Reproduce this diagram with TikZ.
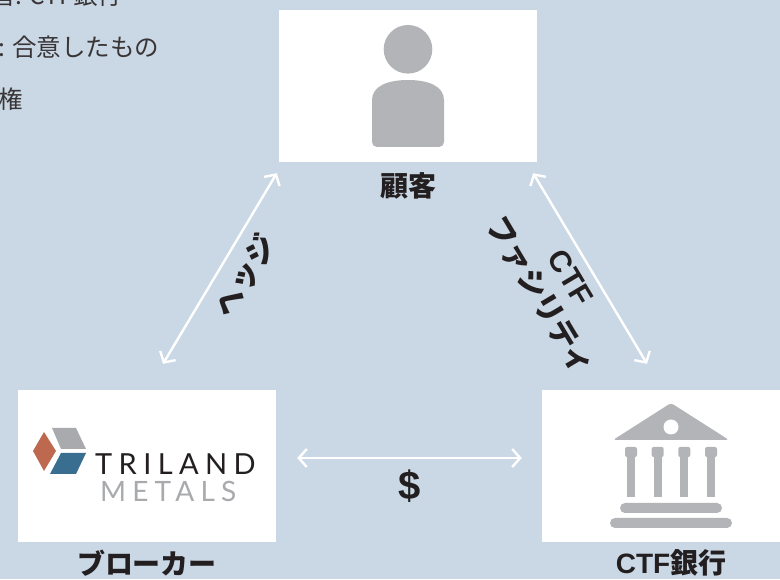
\documentclass[tikz,border=0pt]{standalone}
\usepackage{fontspec}
\setmainfont{Liberation Sans}
\newfontfamily\jp{Noto Sans CJK JP}
\newfontfamily\logofont{Lato}
\usetikzlibrary{positioning, arrows.meta}

\definecolor{bgblue}{RGB}{202,215,228}
\definecolor{icongray}{RGB}{179,180,184}
\definecolor{textdark}{RGB}{35,31,32}
\definecolor{trired}{RGB}{190,104,80}
\definecolor{triblue}{RGB}{58,110,145}
\definecolor{trigray}{RGB}{168,170,173}

\tikzset{
  card/.style={fill=white, minimum width=258pt, minimum height=152pt, inner sep=0pt},
  who/.style={font=\jp\bfseries\fontsize{28}{35}\selectfont, text=textdark},
  tag/.style={font=\jp\bfseries\fontsize{30}{36}\selectfont, text=textdark},
  link/.style={white, line width=2.4pt, {Straight Barb[length=8pt,width=18pt]}-{Straight Barb[length=8pt,width=18pt]}},
  icon/.style={fill=icongray},
  note/.style={font=\jp\fontsize{24.5}{28}\selectfont, text=textdark!90, anchor=base west, inner sep=0pt}
}

\begin{document}
\begin{tikzpicture}[x=1pt, y=1pt]
  \useasboundingbox (0,0) rectangle (780,579);
  \clip (0,0) rectangle (780,579);
  \fill[bgblue] (0,0) rectangle (780,579);

  % notes cut off at the top left
  \node[note] (note1) at (-9,574) {者: CTF銀行};
  \node[note] (note2) at (-2,522) {: 合意したもの};
  \node[note] (note3) at (-2,470) {権};

  % the three parties
  \node[card] (cust) at (408,493) {};
  \node[card] (broker) at (147,113) {};
  \node[card] (bank) at (671,113) {};

  \node[who, below=7pt of cust] (custlbl) {顧客};
  \node[who, below=4pt of broker] (brokerlbl) {ブローカー};
  \node[who, below=4pt of bank] (banklbl) {{\rmfamily CTF}銀行};

  % customer icon
  \begin{scope}[shift={(cust.center)}]
    \fill[icon] (0,36.7) circle[radius=24.3];
    \fill[icon] (0,6) .. controls (20,6) and (36,0) .. (36,-14) -- (36,-56)
      arc[start angle=0, end angle=-90, radius=5] -- (-31,-61)
      arc[start angle=270, end angle=180, radius=5] -- (-36,-14)
      .. controls (-36,0) and (-20,6) .. (0,6) -- cycle;
  \end{scope}

  % broker logo
  \fill[trired] (33,128) -- (44,147) -- (56,128) -- (44,108) -- cycle;
  \fill[trigray] (52,151) -- (76,151) -- (86,130) -- (61,130) -- cycle;
  \fill[triblue] (61,126) -- (86,126) -- (76,105) -- (50,105) -- cycle;
  \node[font=\logofont\fontsize{29}{29}\selectfont\addfontfeature{LetterSpace=22}, text=textdark, anchor=base west, inner sep=0pt] (triland) at (95,104) {TRILAND};
  \node[font=\logofont\fontsize{28}{28}\selectfont\addfontfeature{LetterSpace=22}, text=trigray, anchor=base west, inner sep=0pt] (metals) at (100,77) {METALS};

  % bank icon
  \begin{scope}[shift={(bank.center)}]
    \fill[icon, rounded corners=3pt] (-58,26) -- (0,63) -- (58,26) -- cycle;
    \fill[white] (0,39) circle[radius=7.5];
    \foreach \x in {-40,-13.3,13.3,40} {
      \fill[icon, rounded corners=2pt] (\x-6,9) rectangle (\x+6,19);
      \fill[icon] (\x-4,-31) rectangle (\x+4,11);
    }
    \fill[icon, rounded corners=5pt] (-51,-47) rectangle (51,-37);
    \fill[icon, rounded corners=5pt] (-61,-62) rectangle (61,-52);
  \end{scope}

  % connectors
  \draw[link] ([shift={(16,26)}]broker.north) -- node[tag, pos=0.53, sloped, below=7pt] {ヘッジ} ([shift={(-2,-11)}]cust.south west);
  \draw[link] ([shift={(-4,-11)}]cust.south east) -- node[tag, align=center, pos=0.49, sloped, below=6pt] {{\rmfamily CTF}\\ファシリティ} ([shift={(-24,26)}]bank.north);
  \draw[link] ([shift={(21,8)}]broker.east) -- node[midway, below=7pt, font=\bfseries\fontsize{40}{40}\selectfont, text=textdark] {\$} ([shift={(-20,8)}]bank.west);
\end{tikzpicture}
\end{document}
